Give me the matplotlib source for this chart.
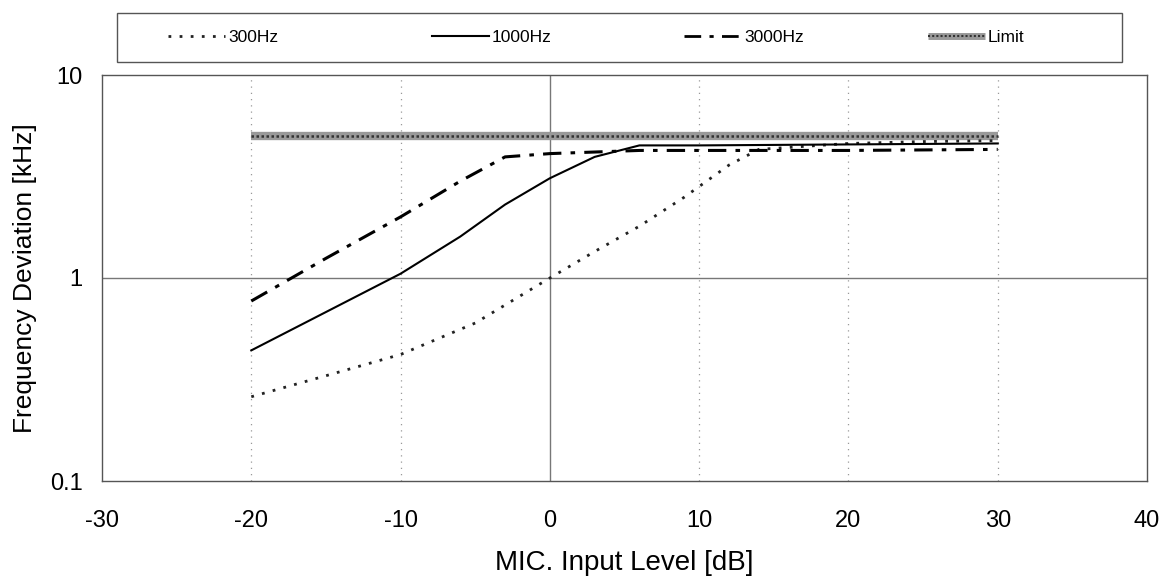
import matplotlib
matplotlib.use("Agg")
import matplotlib.pyplot as plt
from matplotlib.lines import Line2D
from matplotlib.patches import Rectangle

plt.rcParams['font.family'] = ['Liberation Sans', 'DejaVu Sans']

# ---- data ----
x300 = [-20, -15, -10, -5, 0, 3, 6, 9, 12, 14, 20, 25, 30]
y300 = [0.26, 0.33, 0.42, 0.6, 1.0, 1.35, 1.8, 2.5, 3.6, 4.3, 4.6, 4.7, 4.75]

x1000 = [-20, -10, -6, -3, 0, 3, 6, 10, 20, 30]
y1000 = [0.44, 1.05, 1.6, 2.3, 3.1, 3.95, 4.5, 4.5, 4.55, 4.6]

x3000 = [-20, -15, -10, -6, -3, 0, 6, 10, 20, 30]
y3000 = [0.77, 1.25, 2.0, 3.0, 3.95, 4.1, 4.25, 4.25, 4.25, 4.3]

xlimit = [-20, 30]
ylimit = [5.0, 5.0]

xticks = [-30, -20, -10, 0, 10, 20, 30, 40]
yticks = [0.1, 1, 10]
yticklabels = ["0.1", "1", "10"]
series_names = ["300Hz", "1000Hz", "3000Hz", "Limit"]

W, H = 1167, 582
fig = plt.figure(figsize=(W/100, H/100), dpi=100)
ax = fig.add_axes([102/W, (H-481)/H, (1147-102)/W, (481-75)/H])

ax.set_xlim(-30, 40)
ax.set_yscale('log')
ax.set_ylim(0.1, 10)
ax.set_xticks(xticks)
ax.set_xticklabels([str(t) for t in xticks])
ax.set_yticks(yticks)
ax.set_yticklabels(yticklabels)
ax.minorticks_off()
ax.tick_params(axis='both', length=0, labelsize=17, colors='black')
ax.tick_params(axis='x', pad=21)
ax.tick_params(axis='y', pad=14)

for s in ax.spines.values():
    s.set_color('#555555')
    s.set_linewidth(1.0)

# gridlines
for xv in [-20, -10, 10, 20, 30]:
    ax.axvline(xv, color='#999999', lw=0.9, ls=(0, (1, 4)), zorder=1)
ax.axvline(0, color='#777777', lw=1.0, zorder=1)
ax.axhline(1, color='#777777', lw=1.0, zorder=1)

# series
ls300 = (0, (1, 3))
ls3000 = (0, (6, 3, 1.5, 3))
ax.plot(x300, y300, color='#222222', lw=2.0, ls=ls300, zorder=3)
ax.plot(x1000, y1000, color='black', lw=1.5, ls='-', zorder=3)
ax.plot(x3000, y3000, color='black', lw=2.2, ls=ls3000, zorder=3)
ax.plot(xlimit, ylimit, color='#999999', lw=6, solid_capstyle='butt', zorder=2)
ax.plot(xlimit, ylimit, color='#333333', lw=1.8, ls=(0, (1, 1)), zorder=2)

ax.set_xlabel("MIC. Input Level [dB]", fontsize=20, labelpad=13)
ax.set_ylabel("Frequency Deviation [kHz]", fontsize=19, labelpad=9)

# legend box
lx0, lx1, ly0, ly1 = 117/W, 1122/W, (H-62)/H, (H-13)/H
fig.patches.append(Rectangle((lx0, ly0), lx1-lx0, ly1-ly0, transform=fig.transFigure,
                             fill=False, edgecolor='#555555', lw=1.0))

handles = [
    Line2D([], [], color='#222222', lw=2.0, ls=ls300),
    Line2D([], [], color='black', lw=1.5),
    Line2D([], [], color='black', lw=2.0, ls=ls3000),
    (Line2D([], [], color='#999999', lw=5, solid_capstyle='butt'),
     Line2D([], [], color='#333333', lw=1.5, ls=(0, (1, 1)))),
]
starts = [168, 432, 684, 928]
ymid = (ly0 + ly1) / 2
for h, name, xs in zip(handles, series_names, starts):
    fig.legend([h], [name], loc='center left', bbox_to_anchor=(xs/W, ymid),
               frameon=False, fontsize=12.5, handlelength=3.3,
               handletextpad=0.15, borderpad=0, borderaxespad=0)

fig.savefig("out.png", dpi=100)
